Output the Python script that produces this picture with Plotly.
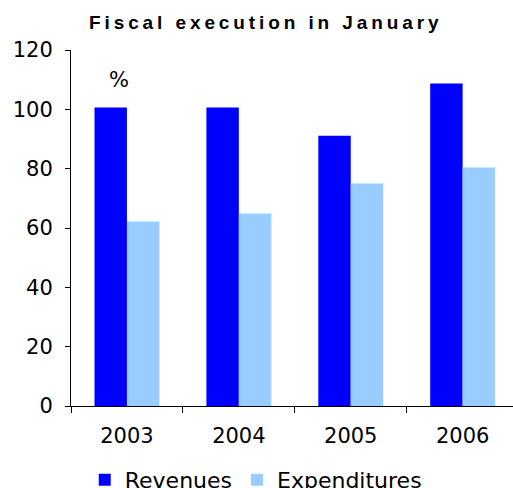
import plotly.graph_objects as go

years = ["2003", "2004", "2005", "2006"]
revenues = [100.6, 100.6, 91.1, 108.7]
expenditures = [62.2, 64.9, 75.0, 80.4]
y_ticks = [0, 20, 40, 60, 80, 100, 120]

FONT = "DejaVu Sans"

fig = go.Figure()
fig.add_trace(go.Bar(name="Revenues", x=years, y=revenues, marker_color="#0000FF",
                     marker_line_width=0))
fig.add_trace(go.Bar(name="Expenditures", x=years, y=expenditures, marker_color="#99CCFF",
                     marker_line_width=0))

fig.update_layout(
    width=513, height=488,
    margin=dict(l=71, r=0, t=50, b=82, autoexpand=False),
    paper_bgcolor="white", plot_bgcolor="white",
    barmode="group", bargap=0.42, bargroupgap=0,
    font=dict(family=FONT, size=21, color="black"),
    title=dict(text='<span style="letter-spacing:3.9px"><b>Fiscal execution in January</b></span>',
               x=0.518, xanchor="center", y=0.955, yanchor="middle",
               font=dict(family="Liberation Sans", size=19, color="black")),
    showlegend=True,
    legend=dict(orientation="h", x=0.418, xanchor="center", y=-0.149, yanchor="top",
                font=dict(family=FONT, size=22), itemwidth=30,
                bgcolor="rgba(0,0,0,0)", traceorder="normal"),
    xaxis=dict(type="category", range=[-0.5, 3.45], showline=True, linecolor="black",
               linewidth=1, ticks="outside", tickson="boundaries", ticklen=6,
               tickcolor="black", showgrid=False, ticklabelstandoff=11, zeroline=False),
    yaxis=dict(range=[0, 120], tickvals=y_ticks, showline=True, linecolor="black",
               linewidth=1, ticks="outside", ticklen=5, tickcolor="black",
               showgrid=False, zeroline=False, ticklabelstandoff=8),
)

fig.add_annotation(x=0, y=110, xref="x", yref="y", text="%", showarrow=False, xshift=-8,
                   font=dict(family=FONT, size=21, color="black"))

fig.write_html("out.html")
